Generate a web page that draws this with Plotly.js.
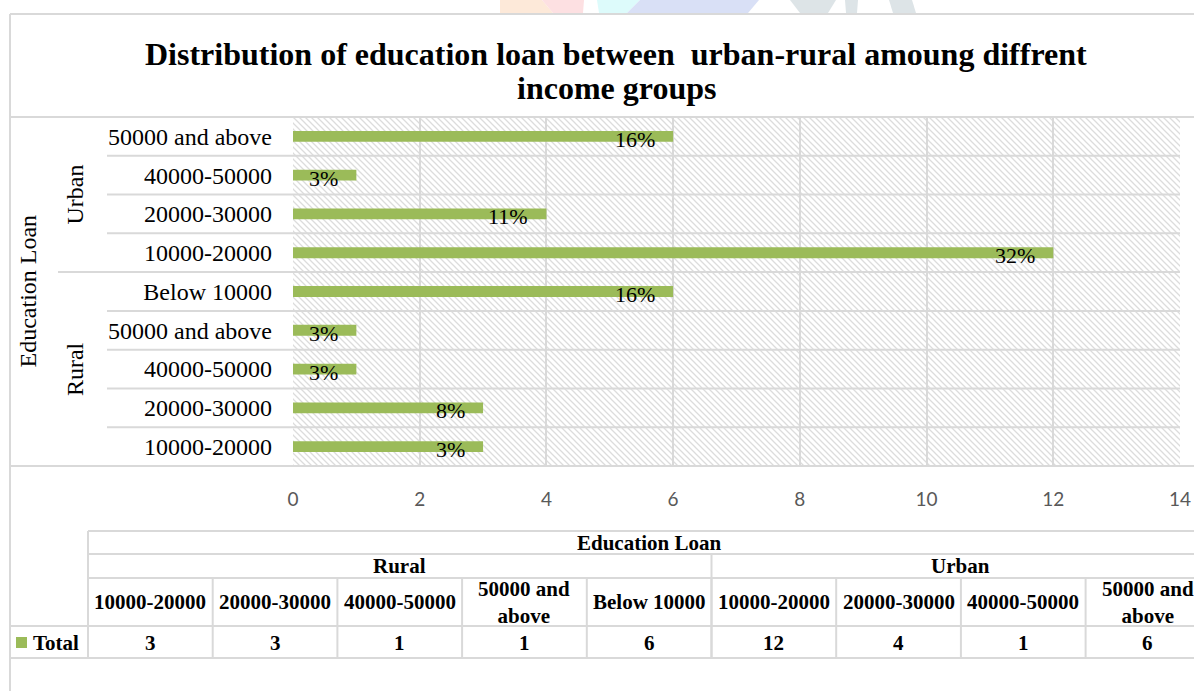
<!DOCTYPE html>
<html><head><meta charset="utf-8">
<script src="https://cdn.plot.ly/plotly-3.0.1.min.js"></script>
<style>html,body{margin:0;padding:0;background:#fff}#chart{width:1194px;height:691px}</style>
</head><body><div id="chart"></div>
<script>
// ---------------- data ----------------
const titleLines = ['Distribution of education loan between  urban-rural amoung diffrent', 'income groups'];
const outerGroup = 'Education Loan';
const groupNames = ['Rural', 'Urban'];
const ruralCategories = ['10000-20000', '20000-30000', '40000-50000', '50000 and above', 'Below 10000'];
const ruralValues = [3, 3, 1, 1, 6];
const ruralPctLabels = ['3%', '8%', '3%', '3%', '16%'];
const urbanCategories = ['10000-20000', '20000-30000', '40000-50000', '50000 and above'];
const urbanValues = [12, 4, 1, 6];
const urbanPctLabels = ['32%', '11%', '3%', '16%'];
const seriesName = 'Total';
const xTickValues = [0, 2, 4, 6, 8, 10, 12, 14];

// ---------------- derived ----------------
const categories = ruralCategories.concat(urbanCategories);
const groupsOf = ruralCategories.map(() => groupNames[0]).concat(urbanCategories.map(() => groupNames[1]));
const keys = categories.map((c, i) => groupsOf[i] + '|' + c);
const values = ruralValues.concat(urbanValues);
const pctLabels = ruralPctLabels.concat(urbanPctLabels);
const nCat = categories.length;

// ---------------- geometry (pixels) ----------------
const W = 1194, H = 691;
const L = 293, R = 1180, T = 117, B = 466;
const px = x => (x - L) / (R - L);
const py = y => (B - y) / (B - T);
const GREEN = '#9BBB59';
const LINE = '#d9d9d9';
const SERIF = 'Liberation Serif, Times New Roman, serif';

// hatched plot background
const hatchSvg = "<svg xmlns='http://www.w3.org/2000/svg' width='" + (R - L) + "' height='" + (B - T) + "'>" +
  "<defs><pattern id='p' width='6' height='6' patternUnits='userSpaceOnUse'>" +
  "<path d='M-1,-1 L7,7 M-1,5 L1,7 M5,-1 L7,1' stroke='#dcdcdc' stroke-width='1.3'/></pattern></defs>" +
  "<rect width='100%' height='100%' fill='white'/><rect width='100%' height='100%' fill='url(#p)'/></svg>";

const shapes = [];
const hline = (y, x0, x1) => shapes.push({type: 'line', xref: 'paper', yref: 'paper', x0: px(x0), x1: px(x1), y0: py(y), y1: py(y), line: {color: LINE, width: 2}});
const vline = (x, y0, y1) => shapes.push({type: 'line', xref: 'paper', yref: 'paper', x0: px(x), x1: px(x), y0: py(y0), y1: py(y1), line: {color: LINE, width: 2}});

// outer frame
hline(14, 10, W + 5);
vline(10, 14, H + 5);
hline(T, 10, W + 5);
hline(B, 10, W + 5);
// row separators (plot + label area)
for (let i = 0; i < nCat - 1; i++) {
  const groupBoundary = groupsOf[i] !== groupsOf[i + 1];
  shapes.push({type: 'line', xref: 'paper', yref: 'y', x0: px(groupBoundary ? 58 : 107), x1: 1,
    y0: i + 0.5, y1: i + 0.5, line: {color: LINE, width: 2}});
}

// data table
const tLeft = 88, colW = 124.7;
const rY = [531, 554, 578, 626, 658];
const tRight = tLeft + colW * nCat;
hline(rY[0], tLeft, W + 5);
hline(rY[1], tLeft, W + 5);
hline(rY[2], tLeft, W + 5);
hline(rY[3], 10, W + 5);
hline(rY[4], 10, W + 5);
vline(tLeft, rY[0], rY[4]);
vline(tLeft + colW * ruralCategories.length, rY[1], rY[4]);
for (let k = 1; k <= nCat; k++) vline(tLeft + colW * k, rY[2], rY[4]);
// legend key
shapes.push({type: 'rect', xref: 'paper', yref: 'paper', x0: px(16), x1: px(27), y0: py(648), y1: py(637), fillcolor: GREEN, line: {width: 0}});

// faint watermark fragments at the top
const wm = (pts, color) => shapes.push({type: 'path', xref: 'paper', yref: 'paper', layer: 'below',
  path: 'M' + pts.map(p => px(p[0]) + ',' + py(p[1])).join(' L') + ' Z', fillcolor: color, line: {width: 0}});
wm([[500, 0], [542, 0], [553, 13], [500, 13]], '#fde9d9');
wm([[542, 0], [584, 0], [583, 13], [553, 13]], '#fde0e2');
wm([[597, 0], [640, 0], [627, 13], [599, 13]], '#ddfbfb');
wm([[640, 0], [759, 0], [748, 13], [627, 13]], '#d9e0f6');
wm([[790, 0], [836, 0], [828, 13], [800, 13]], '#dde4e7');
wm([[845, 0], [858, 0], [857, 13], [846, 13]], '#dde4e7');
wm([[889, 0], [912, 0], [916, 13], [893, 13]], '#dde4e7');

const annotations = [];
// title (two lines, tight leading)
const titleY = [54, 88];
titleLines.forEach((t, i) => annotations.push({x: px(616), y: py(titleY[i]), xref: 'paper', yref: 'paper',
  text: '<b>' + t + '</b>', showarrow: false, xanchor: 'center', yanchor: 'middle',
  font: {family: SERIF, size: 32, color: '#000'}}));
// percentage labels near bar ends
keys.forEach((k, i) => annotations.push({x: values[i], y: k, xref: 'x', yref: 'y', text: pctLabels[i],
  showarrow: false, xanchor: 'right', yanchor: 'middle', xshift: -16, yshift: -3,
  font: {family: SERIF, size: 22, color: '#000'}}));
// multi-level axis labels
const gFont = {family: SERIF, size: 24, color: '#000'};
annotations.push({x: px(27), y: 0.5, xref: 'paper', yref: 'paper', text: outerGroup, textangle: -90,
  showarrow: false, xanchor: 'center', yanchor: 'middle', font: gFont});
const rFrac = ruralCategories.length / nCat;
annotations.push({x: px(75), y: rFrac / 2, xref: 'paper', yref: 'paper', text: groupNames[0], textangle: -90,
  showarrow: false, xanchor: 'center', yanchor: 'middle', font: gFont});
annotations.push({x: px(75), y: rFrac + (1 - rFrac) / 2, xref: 'paper', yref: 'paper', text: groupNames[1], textangle: -90,
  showarrow: false, xanchor: 'center', yanchor: 'middle', font: gFont});
// table text
const tFont = {family: SERIF, size: 21, color: '#000'};
const cellText = (xc, yc, txt, anchor) => annotations.push({x: px(xc), y: py(yc), xref: 'paper', yref: 'paper',
  text: '<b>' + txt + '</b>', showarrow: false, xanchor: anchor || 'center', yanchor: 'middle', font: tFont, align: 'center'});
cellText((tLeft + tRight) / 2, (rY[0] + rY[1]) / 2, outerGroup);
cellText(tLeft + colW * ruralCategories.length / 2, (rY[1] + rY[2]) / 2, groupNames[0]);
cellText(tLeft + colW * (ruralCategories.length + urbanCategories.length / 2), (rY[1] + rY[2]) / 2, groupNames[1]);
const wrap = s => s.length > 12 ? s.replace(/ (\S+)$/, '<br>$1') : s;
categories.forEach((c, i) => {
  cellText(tLeft + colW * (i + 0.5), (rY[2] + rY[3]) / 2, wrap(c).replace('<br>', '</b><br><b>'));
  cellText(tLeft + colW * (i + 0.5), (rY[3] + rY[4]) / 2 + 1, String(values[i]));
});
cellText(31, (rY[3] + rY[4]) / 2 + 1, seriesName, 'left');

const trace = {
  type: 'bar', orientation: 'h', name: seriesName,
  x: values, y: keys,
  marker: {color: GREEN, line: {width: 0}},
  hoverinfo: 'x+y'
};

const layout = {
  width: W, height: H,
  margin: {l: L, r: W - R, t: T, b: H - B, pad: 0},
  paper_bgcolor: '#fff', plot_bgcolor: 'rgba(0,0,0,0)',
  showlegend: false,
  bargap: 0.72,
  xaxis: {range: [0, 14], tickvals: xTickValues, ticktext: xTickValues.map(String), showgrid: true,
    gridcolor: LINE, gridwidth: 2, zeroline: false, showline: false, ticks: '', ticklabelstandoff: 20,
    tickfont: {family: 'Lato, Open Sans, sans-serif', size: 19, color: '#595959'}, fixedrange: true},
  yaxis: {type: 'category', categoryorder: 'array', categoryarray: keys, tickvals: keys, ticktext: categories,
    range: [-0.5, nCat - 0.5], showgrid: false, zeroline: false, ticks: '', ticklabelstandoff: 20,
    tickfont: {family: SERIF, size: 24, color: '#000'}, fixedrange: true},
  images: [{source: 'data:image/svg+xml;charset=utf-8,' + encodeURIComponent(hatchSvg), xref: 'paper', yref: 'paper',
    x: 0, y: 1, sizex: 1, sizey: 1, xanchor: 'left', yanchor: 'top', sizing: 'stretch', layer: 'below'}],
  shapes: shapes,
  annotations: annotations
};

Plotly.newPlot('chart', [trace], layout, {staticPlot: true, displayModeBar: false});
</script>
</body></html>
